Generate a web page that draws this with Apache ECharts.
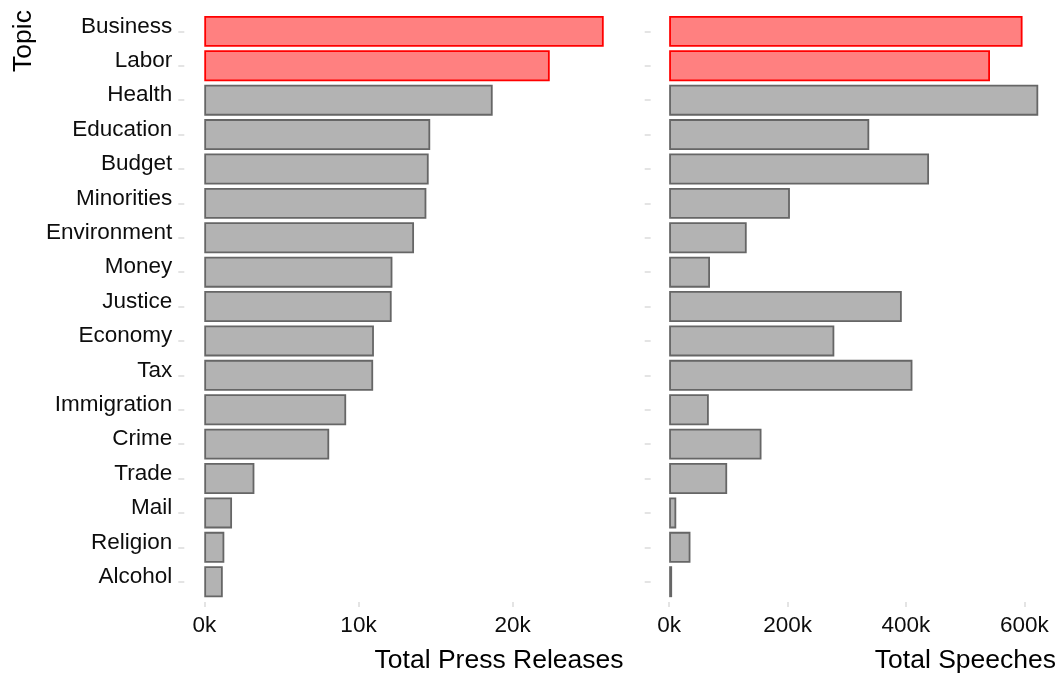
<!DOCTYPE html>
<html>
<head>
<meta charset="utf-8">
<script src="https://cdn.jsdelivr.net/npm/echarts@6/dist/echarts.min.js"></script>
<style>
html,body{margin:0;padding:0;background:#fff;}
#c{width:1060px;height:675px;}
</style>
</head>
<body>
<div id="c"></div>
<script>
const categories = ['Business','Labor','Health','Education','Budget','Minorities','Environment','Money','Justice','Economy','Tax','Immigration','Crime','Trade','Mail','Religion','Alcohol'];
const pressReleases = [25900,22400,18700,14650,14550,14400,13600,12200,12150,11000,10950,9200,8100,3250,1800,1300,1200];
const speeches = [597000,542000,623500,338000,439000,204000,131000,69000,393000,279000,411000,67000,156000,98000,12000,36000,5000];
const highlighted = ['Business','Labor'];
const pressTicks = [0,10000,20000];
const speechTicks = [0,200000,400000,600000];
const pressTitle = 'Total Press Releases';
const speechTitle = 'Total Speeches';
const yTitle = 'Topic';

const FONT = "'Liberation Sans', Arial, sans-serif";
function styled(values){
  return values.map((v,i)=>{
    const hi = highlighted.includes(categories[i]);
    return {value:v, itemStyle: hi ? {color:'#ff8080', borderColor:'#ff0000', borderWidth:1.8}
                                    : {color:'#b3b3b3', borderColor:'#666666', borderWidth:1.8}};
  });
}
const kfmt = v => (v/1000) + 'k';
const gridTop = 14.2, gridHeight = 584.7;
const expand = 0.05;

const chart = echarts.init(document.getElementById('c'), null, {renderer:'canvas'});
chart.setOption({
  animation:false,
  backgroundColor:'#fff',
  grid:[
    {left:184.3, top:gridTop, width:439.4, height:gridHeight},
    {left:650.7, top:gridTop, right:3.3, height:gridHeight}
  ],
  xAxis:[
    {type:'value', gridIndex:0, min:v=>-v.max*expand, max:v=>v.max*(1+expand), offset:3,
     splitLine:{show:false}, axisLine:{show:false, onZero:false},
     axisTick:{show:true, length:5, customValues:pressTicks, lineStyle:{color:'#dcdcdc', width:1.5}},
     axisLabel:{customValues:pressTicks, formatter:kfmt, fontFamily:FONT, fontSize:22.5, color:'#0d0d0d', margin:12}},
    {type:'value', gridIndex:1, min:v=>-v.max*expand, max:v=>v.max*(1+expand), offset:3,
     splitLine:{show:false}, axisLine:{show:false, onZero:false},
     axisTick:{show:true, length:5, customValues:speechTicks, lineStyle:{color:'#dcdcdc', width:1.5}},
     axisLabel:{customValues:speechTicks, formatter:kfmt, fontFamily:FONT, fontSize:22.5, color:'#0d0d0d', margin:12}}
  ],
  yAxis:[
    {type:'category', gridIndex:0, data:categories, inverse:true,
     axisLine:{show:false, onZero:false},
     axisTick:{show:true, length:6, alignWithLabel:true, lineStyle:{color:'#dcdcdc', width:1.5}},
     axisLabel:{fontFamily:FONT, fontSize:22.5, color:'#0d0d0d', margin:12, verticalAlign:'bottom', lineHeight:10}},
    {type:'category', gridIndex:1, data:categories, inverse:true,
     axisLine:{show:false, onZero:false},
     axisTick:{show:true, length:6, alignWithLabel:true, lineStyle:{color:'#dcdcdc', width:1.5}},
     axisLabel:{show:false}}
  ],
  series:[
    {type:'bar', xAxisIndex:0, yAxisIndex:0, data:styled(pressReleases), barCategoryGap:'10%'},
    {type:'bar', xAxisIndex:1, yAxisIndex:1, data:styled(speeches), barCategoryGap:'10%'}
  ],
  graphic:[
    {type:'text', x:24, y:41, rotation:Math.PI/2,
     style:{text:yTitle, fontFamily:FONT, fontSize:26.5, fill:'#000', align:'center', verticalAlign:'middle'}},
    {type:'text', x:623.5, y:661,
     style:{text:pressTitle, fontFamily:FONT, fontSize:26.5, fill:'#000', align:'right', verticalAlign:'middle'}},
    {type:'text', x:1056, y:661,
     style:{text:speechTitle, fontFamily:FONT, fontSize:26.5, fill:'#000', align:'right', verticalAlign:'middle'}}
  ]
});
</script>
</body>
</html>
